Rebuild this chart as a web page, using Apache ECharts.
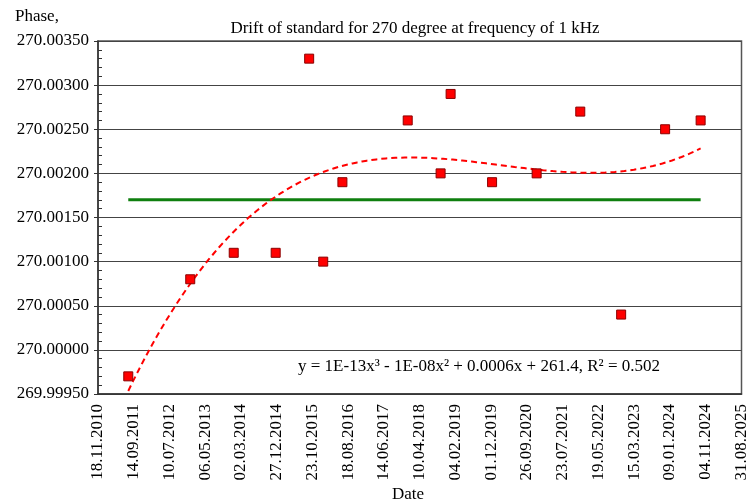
<!DOCTYPE html>
<html>
<head>
<meta charset="utf-8">
<script src="https://cdn.jsdelivr.net/npm/echarts@6/dist/echarts.min.js"></script>
<style>html,body{margin:0;padding:0;background:#fff}#c{width:750px;height:504px}</style>
</head>
<body>
<div id="c"></div>
<script>
// ---- data ----
const measureDates = ['2011-07-30','2012-12-31','2013-12-31','2014-12-18','2015-09-25','2016-01-21','2016-06-30','2017-12-30','2018-10-02','2018-12-25','2019-12-08','2020-12-16','2021-12-17','2022-11-25','2023-11-29','2024-09-22'];
const phaseValues = [269.99970,270.00080,270.00110,270.00110,270.00330,270.00100,270.00190,270.00260,270.00200,270.00290,270.00190,270.00200,270.00270,270.00040,270.00250,270.00260];
const referencePhase = [270.00170];
const xTickStartSerial = 40500;   // 18.11.2010
const xTickEndSerial = 45900;     // 31.08.2025
const xTickStepDays = 300;
const yTicks = [269.99950,270.00000,270.00050,270.00100,270.00150,270.00200,270.00250,270.00300,270.00350];
const titleText = 'Drift of standard for 270 degree at frequency of 1 kHz';
const trendLabel = 'y = 1E-13x³ - 1E-08x² + 0.0006x + 261.4, R² = 0.502';

// ---- helpers ----
const EPOCH = Date.UTC(1899, 11, 30);
function toSerial(s){const p=s.split('-').map(Number);return (Date.UTC(p[0],p[1]-1,p[2])-EPOCH)/86400000;}
function serialToLabel(v){const d=new Date(EPOCH+Math.round(v)*86400000);const dd=String(d.getUTCDate()).padStart(2,'0');const mm=String(d.getUTCMonth()+1).padStart(2,'0');return dd+'.'+mm+'.'+d.getUTCFullYear();}
const xs = measureDates.map(toSerial);
const points = xs.map((x,i)=>[x,phaseValues[i]]);

// cubic least-squares trend (Excel polynomial trendline, order 3)
function cubicFit(X,Y){
  const cx=45000, sx=1000, cy=270, sy=1e5;
  const t=X.map(x=>(x-cx)/sx), d=Y.map(y=>(y-cy)*sy);
  const n=4, A=[...Array(n)].map(()=>Array(n+1).fill(0));
  for(let k=0;k<t.length;k++){for(let i=0;i<n;i++){for(let j=0;j<n;j++)A[i][j]+=Math.pow(t[k],i+j);A[i][n]+=d[k]*Math.pow(t[k],i);}}
  for(let i=0;i<n;i++){let p=i;for(let r=i+1;r<n;r++)if(Math.abs(A[r][i])>Math.abs(A[p][i]))p=r;[A[i],A[p]]=[A[p],A[i]];
    for(let r=0;r<n;r++){if(r===i)continue;const f=A[r][i]/A[i][i];for(let c=i;c<=n;c++)A[r][c]-=f*A[i][c];}}
  const b=A.map((row,i)=>row[n]/row[i]);
  return x=>{const u=(x-cx)/sx;return cy+(b[0]+b[1]*u+b[2]*u*u+b[3]*u*u*u)/sy;};
}
const trendFn = cubicFit(xs, phaseValues);
const xFirst = Math.min(...xs), xLast = Math.max(...xs);
const trendPts = [];
for(let i=0;i<=120;i++){const x=xFirst+(xLast-xFirst)*i/120;trendPts.push([x,trendFn(x)]);}

const FONT = '"Liberation Serif","Times New Roman",serif';
const chart = echarts.init(document.getElementById('c'), null, {renderer:'canvas'});
chart.setOption({
  animation:false,
  backgroundColor:'#fff',
  title:{text:titleText,left:410,top:15,textAlign:'center',textStyle:{fontFamily:FONT,fontSize:17,fontWeight:'normal',color:'#000'}},
  grid:{left:98,right:7,top:41,bottom:110,show:true,borderColor:'#555',borderWidth:1.5,backgroundColor:'transparent'},
  xAxis:{type:'value',min:xTickStartSerial,max:xTickEndSerial,interval:xTickStepDays,
    axisLine:{show:true,lineStyle:{color:'#333',width:1.5}},axisTick:{show:false},splitLine:{show:false},
    axisLabel:{rotate:90,margin:10,fontFamily:FONT,fontSize:17,color:'#000',formatter:v=>serialToLabel(v),showMinLabel:true,showMaxLabel:true}},
  yAxis:[{type:'value',min:yTicks[0],max:yTicks[yTicks.length-1],interval:0.0005,
    axisLine:{show:true,lineStyle:{color:'#333',width:1.5}},axisTick:{show:true,length:4,lineStyle:{color:'#333'}},
    splitLine:{show:true,lineStyle:{color:'#444',width:1.2}},
    axisLabel:{margin:9,fontFamily:FONT,fontSize:17,color:'#000',formatter:v=>v.toFixed(5)}},
    {type:'value',position:'left',min:yTicks[0],max:yTicks[yTicks.length-1],interval:0.0005,
    axisLine:{show:false},axisTick:{show:false,inside:true},axisLabel:{show:false},splitLine:{show:false},
    minorTick:{show:true,splitNumber:5,length:4,lineStyle:{color:'#333'}}}],
  graphic:[
    {type:'text',left:15,top:8,style:{text:'Phase,',font:'17px '+FONT,fill:'#000'}},
    {type:'text',left:392,top:486,style:{text:'Date',font:'17px '+FONT,fill:'#000'}},
    {type:'text',left:298,top:358,style:{text:trendLabel,font:'17px '+FONT,fill:'#000'}}
  ],
  series:[
    {type:'line',data:[[xFirst,referencePhase[0]],[xLast,referencePhase[0]]],symbol:'none',lineStyle:{color:'#0f7f0f',width:3},z:2},
    {type:'line',data:trendPts,symbol:'none',smooth:false,lineStyle:{color:'#ff0000',width:2,type:[6,4]},z:3},
    {type:'scatter',data:points,symbol:'rect',symbolSize:9,itemStyle:{color:'#ff0000',borderColor:'#8b0000',borderWidth:1,opacity:1},z:4}
  ]
});
</script>
</body>
</html>
